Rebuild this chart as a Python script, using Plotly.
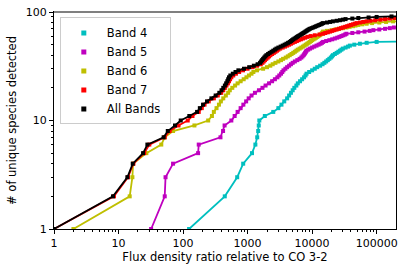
import plotly.graph_objects as go

# Flux density ratio (relative to CO 3-2) of each newly detected species, sorted;
# the cumulative count of unique species is 1, 2, 3, ... along each list.
band4_ratio = [124, 443, 690, 855, 1170, 1320, 1410, 1460, 1490, 1520,
               1850, 2500, 3000, 3350, 3700, 4100, 4400, 4700, 5000, 5300,
               5700, 6000, 6500, 7000, 7500, 7900, 8200, 9000, 10000, 11000,
               12000, 13300, 14500, 15500, 16500, 17500, 18500, 19500, 20300, 21000,
               22500, 24000, 25500, 27000, 28500, 30000, 33000, 36000, 38500, 45000,
               55000, 70000, 100000, 1000000]
band5_ratio = [32, 52, 53.5, 70, 171, 175, 380, 417, 440, 560,
               630, 700, 780, 860, 950, 1040, 1150, 1300, 1500, 1700,
               1900, 2150, 2400, 2650, 2900, 3100, 3300, 3450, 3600, 3850,
               4100, 4400, 4700, 5000, 5400, 5900, 6400, 6800, 7100, 7400,
               7600, 7800, 8000, 8200, 8700, 9300, 10000, 10800, 11700, 12600,
               13500, 14200, 14800, 16500, 18500, 20500, 22500, 24500, 26500, 28500,
               30500, 32500, 34000, 42000, 52000, 65000, 78000, 89000, 110000, 135000,
               160000, 185000, 400000]
band6_ratio = [2, 14.9, 16.4, 16.8, 27, 46, 52, 70, 150, 245,
               280, 300, 330, 360, 385, 420, 460, 500, 530, 580,
               640, 700, 780, 870, 960, 1050, 1150, 1230, 1400, 1740,
               2000, 2250, 2450, 2700, 3000, 3300, 3550, 3900, 4200, 4500,
               4800, 5100, 5400, 5700, 6000, 6400, 6800, 7200, 7600, 8000,
               8400, 8800, 9200, 9600, 10000, 10500, 11000, 11500, 12000, 12500,
               13000, 13500, 14000, 14300, 14600, 14800, 17000, 20000, 23000, 26000,
               30000, 34000, 38000, 43000, 47000, 52000, 60000, 70000, 85000, 110000,
               140000, 180000, 400000]
band7_ratio = [1, 8.5, 14, 17, 25, 30, 52, 62, 85, 118,
               140, 175, 195, 215, 250, 300, 345, 390, 420, 445,
               470, 495, 515, 535, 560, 600, 660, 740, 850, 1000,
               1200, 1400, 1600, 1700, 1780, 1860, 1950, 2050, 2150, 2260,
               2400, 2550, 2700, 2850, 3000, 3200, 3500, 3800, 4100, 4400,
               4700, 5000, 5400, 5800, 6200, 6700, 7200, 7800, 8500, 9500,
               11000, 13000, 14800, 16000, 17500, 19000, 20500, 22000, 24000, 26000,
               28000, 30000, 32500, 35000, 37500, 40000, 43000, 46000, 49000, 55000,
               62000, 70000, 80000, 95000, 115000, 135000, 160000, 190000, 400000]
all_ratio = [1, 8.2, 13.7, 16.6, 24, 28, 50, 58, 75, 92,
             125, 165, 182, 204, 235, 275, 320, 365, 395, 420,
             445, 465, 485, 500, 515, 540, 590, 650, 720, 880,
             1060, 1250, 1430, 1560, 1620, 1680, 1740, 1810, 1880, 1960,
             2080, 2200, 2350, 2500, 2650, 2800, 3000, 3250, 3500, 3750,
             4000, 4250, 4500, 4700, 4900, 5100, 5350, 5600, 5850, 6100,
             6400, 6700, 7000, 7300, 7600, 7900, 8200, 8500, 8850, 9200,
             9800, 10400, 11000, 11600, 12200, 12900, 13600, 14200, 14800, 17000,
             19000, 21000, 24000, 27000, 30000, 33000, 42000, 52000, 75000, 100000,
             170000, 500000]

series_names = ["Band 4", "Band 5", "Band 6", "Band 7", "All Bands"]
series_colors = ["#00BFBF", "#BF00BF", "#BFBF00", "#FF0000", "#000000"]
series_ratios = [band4_ratio, band5_ratio, band6_ratio, band7_ratio, all_ratio]

x_tick_vals = [1, 10, 100, 1000, 10000, 100000]
x_tick_text = ["1", "10", "100", "1000", "10000", "100000"]
y_tick_vals = [1, 10, 100]
y_tick_text = ["1", "10", "100"]

FONT = "DejaVu Sans"
fig = go.Figure()

for name, color, ratios in zip(series_names, series_colors, series_ratios):
    counts = list(range(1, len(ratios) + 1))
    fig.add_trace(go.Scatter(
        x=ratios, y=counts, mode="lines+markers", name=name,
        line=dict(color=color, width=1.8),
        marker=dict(symbol="square", size=4, color=color),
        showlegend=False, cliponaxis=True,
    ))

for name, color in zip(series_names, series_colors):
    fig.add_trace(go.Scatter(
        x=[None], y=[None], mode="markers", name=name + "\u00a0",
        marker=dict(symbol="square", size=5, color=color),
        showlegend=True,
    ))

fig.update_layout(
    width=407, height=276,
    margin=dict(l=54, r=11, t=12, b=47, autoexpand=False),
    paper_bgcolor="white", plot_bgcolor="white",
    font=dict(family=FONT, size=11, color="black"),
    showlegend=True,
    legend=dict(
        x=0.017, y=0.975, xanchor="left", yanchor="top",
        bgcolor="rgba(255,255,255,0.85)", bordercolor="#cccccc", borderwidth=1,
        font=dict(family=FONT, size=11.5, color="black"),
        tracegroupgap=0, itemsizing="trace", itemwidth=36,
    ),
    xaxis=dict(
        type="log", range=[0, 5.3],
        tickmode="array", tickvals=x_tick_vals, ticktext=x_tick_text,
        ticks="outside", ticklen=4, tickwidth=1, tickcolor="black",
        showline=True, linecolor="black", linewidth=1, mirror=True,
        showgrid=False, zeroline=False,
        tickfont=dict(family=FONT, size=11),
        title=dict(text="Flux density ratio relative to CO 3-2", font=dict(family=FONT, size=11.5), standoff=3),
        minor=dict(ticks="outside", ticklen=2, tickcolor="black", showgrid=False,
                   tickvals=[m * 10 ** d for d in range(0, 6) for m in range(2, 10)]),
    ),
    yaxis=dict(
        type="log", range=[0, 2],
        tickmode="array", tickvals=y_tick_vals, ticktext=y_tick_text,
        ticks="outside", ticklen=4, tickwidth=1, tickcolor="black",
        showline=True, linecolor="black", linewidth=1, mirror=True,
        showgrid=False, zeroline=False,
        tickfont=dict(family=FONT, size=11),
        title=dict(text="# of unique species detected", font=dict(family=FONT, size=11.5), standoff=6),
        minor=dict(ticks="outside", ticklen=2, tickcolor="black", showgrid=False,
                   tickvals=[m * 10 ** d for d in range(0, 2) for m in range(2, 10)]),
    ),
)

fig.add_shape(type="line", xref="paper", yref="paper", x0=0, x1=1, y0=1, y1=1,
              line=dict(color="#808080", width=2))

fig.write_html("out.html", config={"displayModeBar": False},
               post_script="document.body.style.margin='0';")
